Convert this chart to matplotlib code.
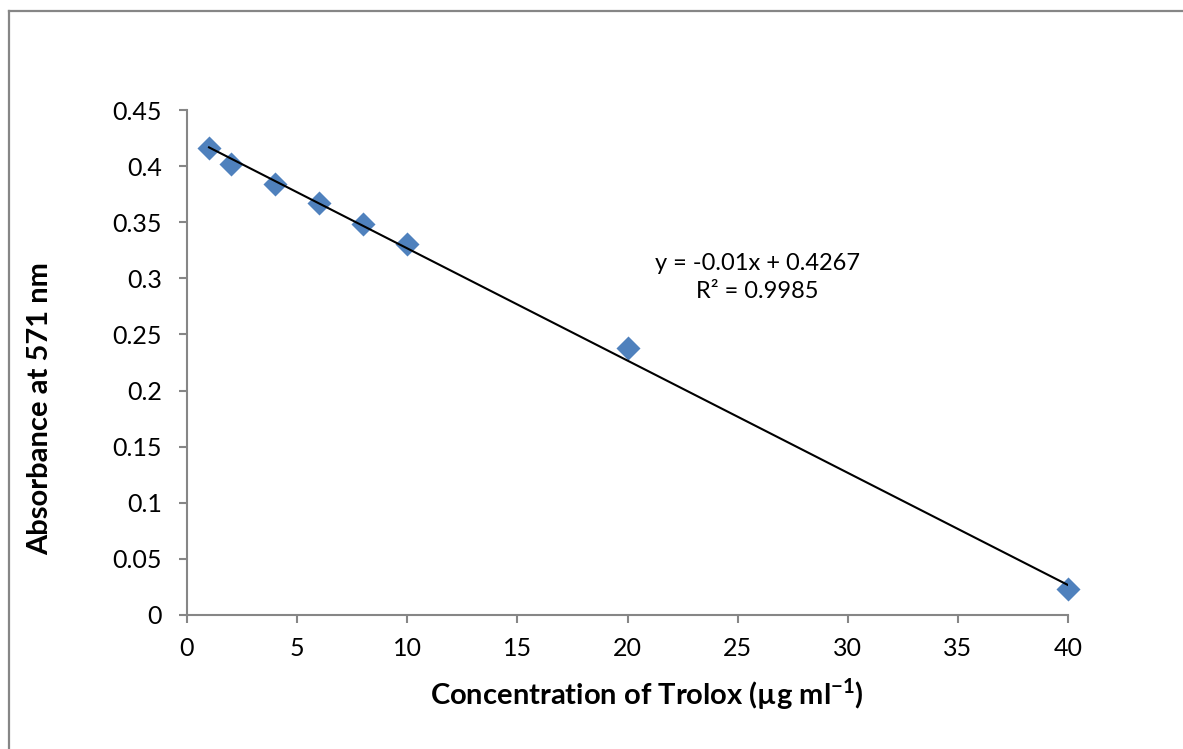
import numpy as np
import matplotlib.pyplot as plt
from matplotlib.lines import Line2D

plt.rcParams['font.family'] = ['Lato', 'DejaVu Sans']

# Trolox standard curve
conc = [1, 2, 4, 6, 8, 10, 20, 40]
absorb = [0.416, 0.402, 0.384, 0.367, 0.348, 0.331, 0.238, 0.023]

# linear trendline as printed on the chart
slope = -0.01
intercept = 0.4267
r2 = 0.9985

fig = plt.figure(figsize=(11.83, 7.49), dpi=100)
ax = fig.add_axes([187 / 1183, 1 - 615 / 749, (1068 - 187) / 1183, (615 - 110) / 749])

grey = '#868686'

# chart frame (only left and top edges show in the picture)
fig.add_artist(Line2D([8.5 / 1183, 8.5 / 1183], [0, 1 - 11 / 749], transform=fig.transFigure,
                      color=grey, lw=1.6))
fig.add_artist(Line2D([8.5 / 1183, 1], [1 - 11 / 749, 1 - 11 / 749], transform=fig.transFigure,
                      color=grey, lw=1.6))

ax.scatter(conc, absorb, marker='D', s=150, color='#4F81BD', zorder=2, linewidths=0, clip_on=False)

xl = np.array([min(conc), max(conc)])
ax.plot(xl, slope * xl + intercept, color='black', lw=1.5, zorder=3)

ax.text(25.9, 0.301, 'y = %gx + %.4f\nR² = %.4f' % (slope, intercept, r2),
        ha='center', va='center', fontsize=17, linespacing=1.4)

ax.set_xlim(0, 40)
ax.set_ylim(0, 0.45)
ax.set_xticks(np.arange(0, 41, 5))
ax.set_yticks(np.arange(0, 0.451, 0.05))
ax.set_yticklabels(['0', '0.05', '0.1', '0.15', '0.2', '0.25', '0.3', '0.35', '0.4', '0.45'])

for s in ['top', 'right']:
    ax.spines[s].set_visible(False)
for s in ['left', 'bottom']:
    ax.spines[s].set_color(grey)
    ax.spines[s].set_linewidth(1.5)
ax.tick_params(direction='out', length=6, width=1.5, color=grey, labelsize=18)
ax.tick_params(axis='y', pad=12)
ax.tick_params(axis='x', pad=10)

ax.set_xlabel('Concentration of Trolox (µg ml$^{\\mathregular{-1}}$)', fontsize=21, fontweight='bold', labelpad=12)
ax.xaxis.label.set_x(0.522)
ax.set_ylabel('Absorbance at 571 nm', fontsize=21, fontweight='bold')
ax.yaxis.set_label_coords(-0.152, 0.408)

fig.savefig('out.png', dpi=100)
